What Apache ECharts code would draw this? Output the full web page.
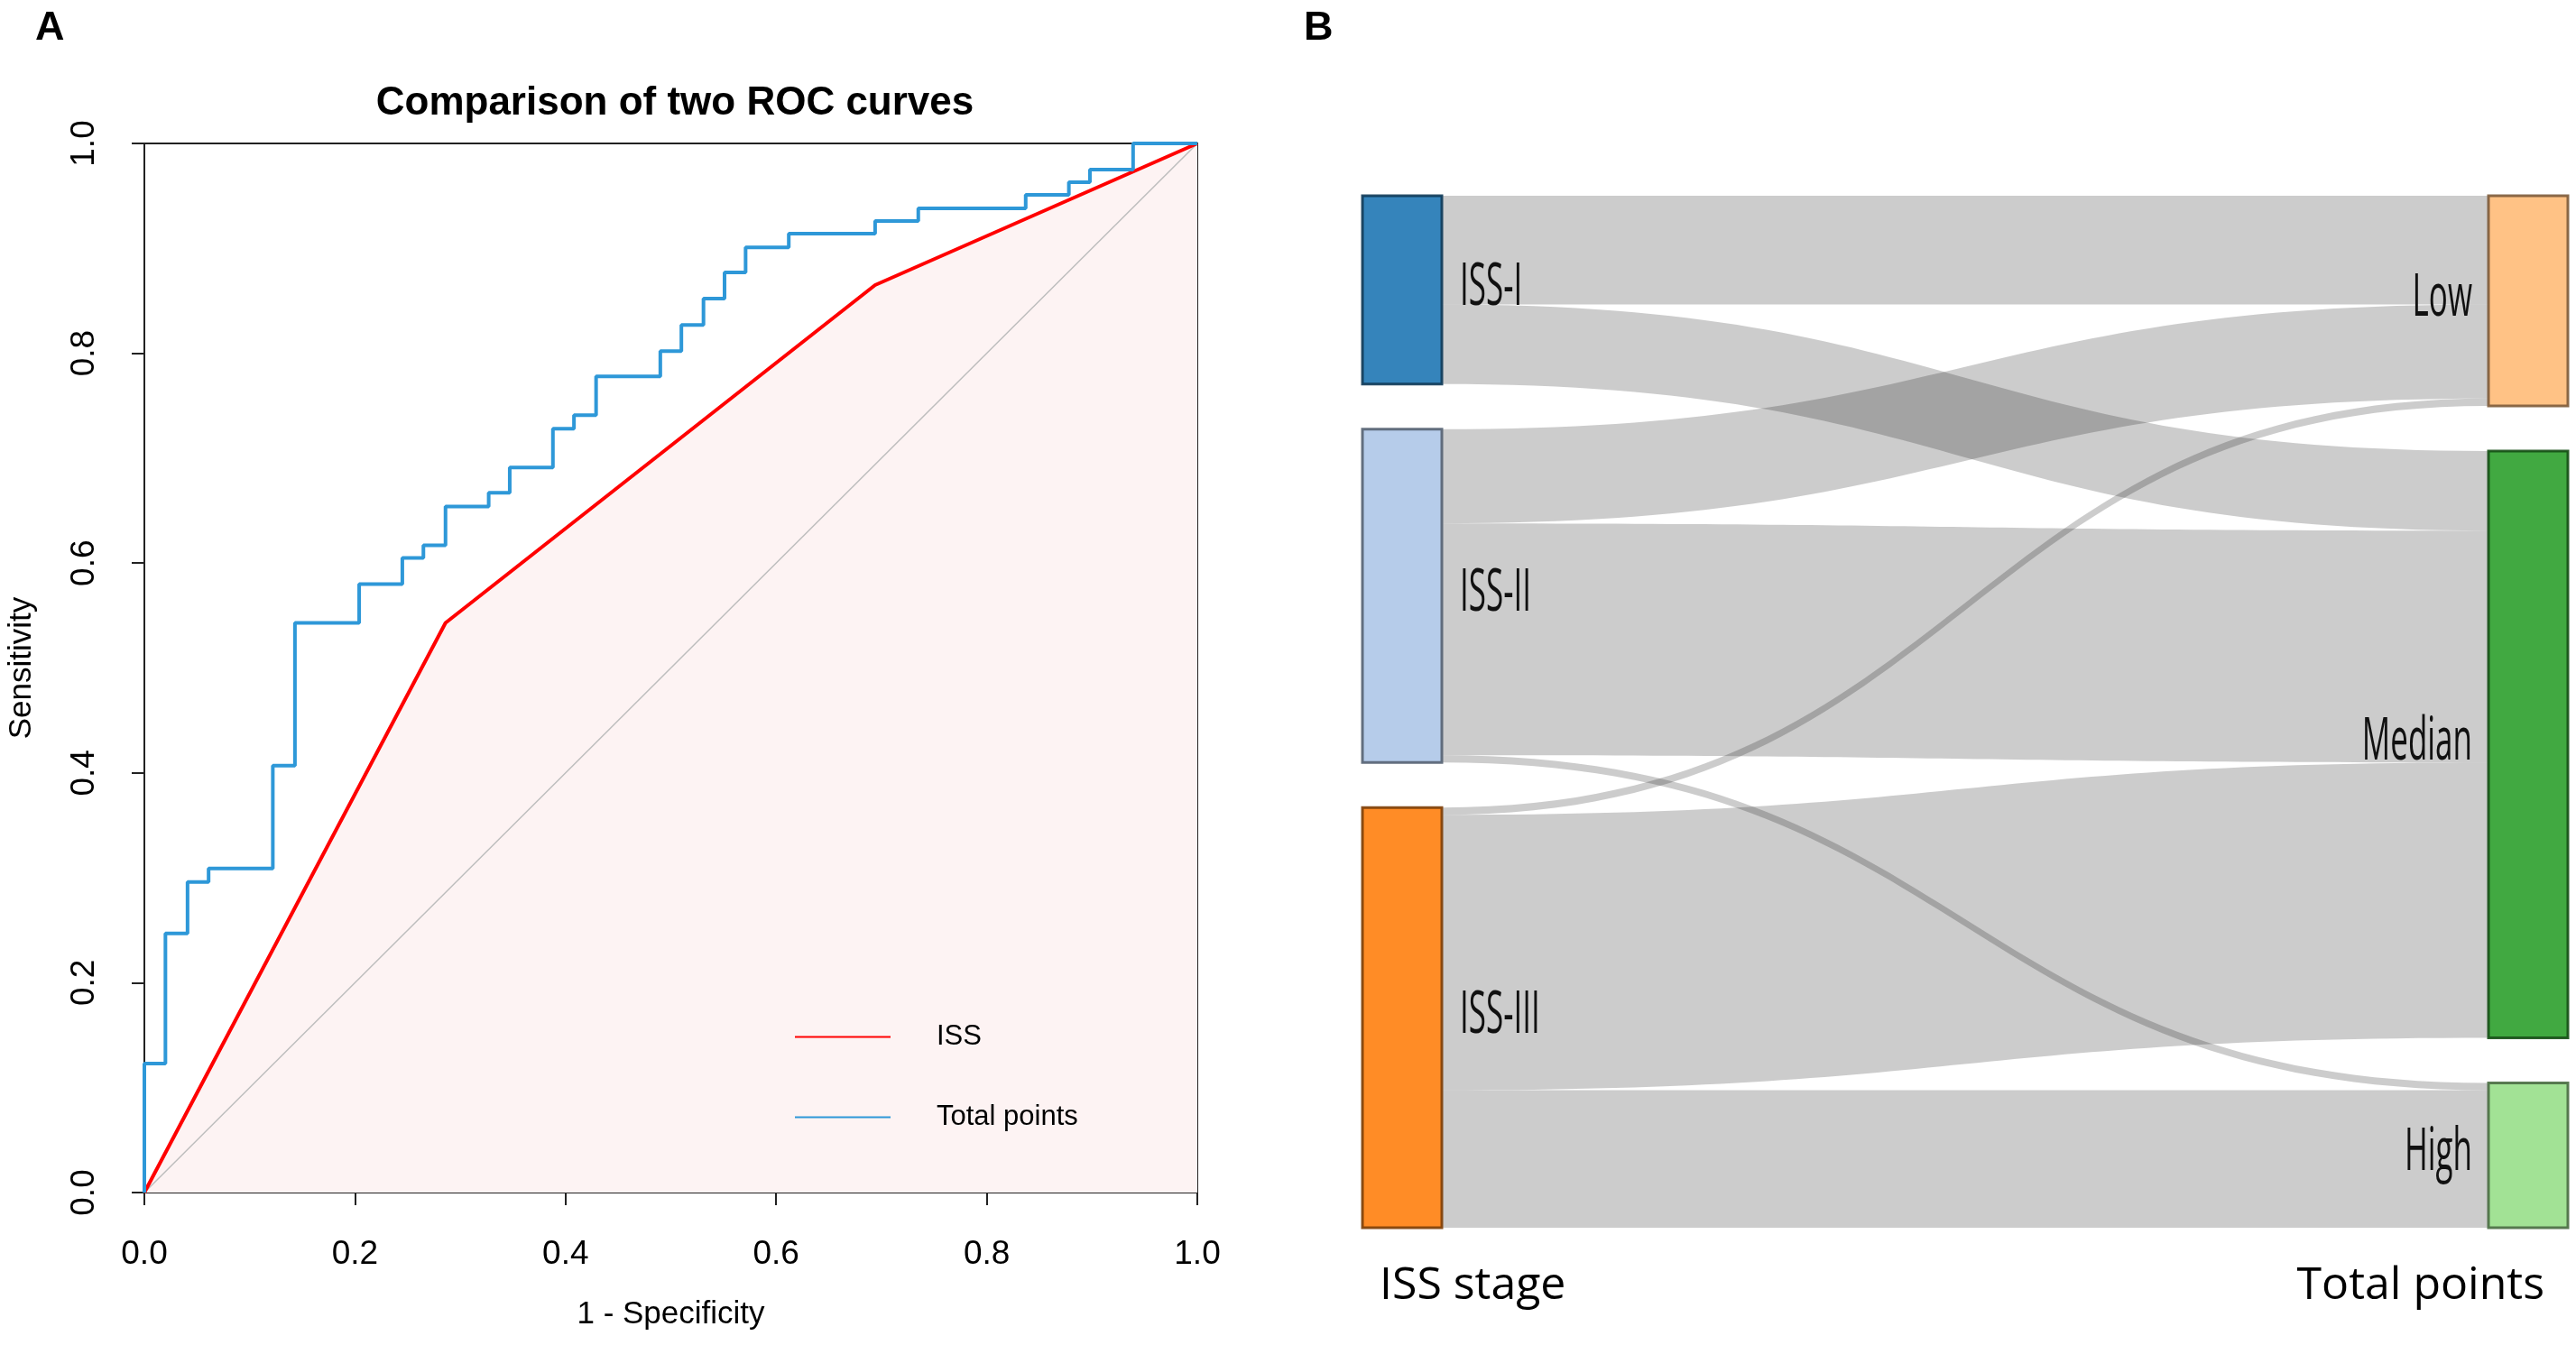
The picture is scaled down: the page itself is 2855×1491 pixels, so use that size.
<!DOCTYPE html>
<html>
<head>
<meta charset="utf-8">
<script src="https://cdn.jsdelivr.net/npm/echarts@6/dist/echarts.min.js"></script>
<style>
  html, body { margin: 0; padding: 0; background: #fff; }
  #main { width: 2855px; height: 1491px; }
</style>
</head>
<body>
<div id="main"></div>
<script>
// ROC data: 1 - specificity (x) and sensitivity (y)
var totalFpr = [0, 0, 0.020, 0.041, 0.061, 0.122, 0.143, 0.204, 0.245, 0.265, 0.286, 0.327, 0.347, 0.388, 0.408, 0.429,
                0.490, 0.510, 0.531, 0.551, 0.571, 0.612, 0.694, 0.735, 0.837, 0.878, 0.898, 0.939, 1.0];
var totalTpr = [0, 0.123, 0.247, 0.296, 0.309, 0.407, 0.543, 0.580, 0.605, 0.617, 0.654, 0.667, 0.691, 0.728, 0.741, 0.778,
                0.802, 0.827, 0.852, 0.877, 0.901, 0.914, 0.926, 0.938, 0.951, 0.963, 0.975, 1.0, 1.0];
var issFpr = [0, 0.286, 0.694, 1.0];
var issTpr = [0, 0.543, 0.865, 1.0];
var diagX = [0, 1];
var diagY = [0, 1];

// Sankey data
var stageNames = ['ISS-I', 'ISS-II', 'ISS-III'];
var pointNames = ['Low', 'Median', 'High'];
var flowSource = ['ISS-I', 'ISS-I', 'ISS-II', 'ISS-II', 'ISS-II', 'ISS-III', 'ISS-III', 'ISS-III'];
var flowTarget = ['Low', 'Median', 'Low', 'Median', 'High', 'Low', 'Median', 'High'];
var flowValue  = [15, 11, 13, 32, 1, 1, 38, 19];

var nodeColors = ['#1f77b4', '#aec7e8', '#ff7f0e', '#ffbb78', '#2ca02c', '#98df8a'];
var nodeBorders = ['#0f3a58', '#556272', '#7d3e07', '#7d5b3a', '#154e15', '#4a6d43'];

var fontR = "'Liberation Sans', Arial, sans-serif";
var fontSankey = "'Open Sans', 'Noto Sans', sans-serif";
var blue = '#2E98D8';

function pairs(xs, ys) {
    var out = [];
    for (var i = 0; i < xs.length; i++) out.push([xs[i], ys[i]]);
    return out;
}

var chart = echarts.init(document.getElementById('main'));

var nodes = stageNames.concat(pointNames).map(function (name, i) {
    return {
        name: name,
        itemStyle: { color: nodeColors[i], borderColor: nodeBorders[i], borderWidth: 3, opacity: 0.9 }
    };
});
var links = flowValue.map(function (v, i) {
    return { source: flowSource[i], target: flowTarget[i], value: v };
});

var aucTexts = [
    { type: 'text', left: 860, top: 738, style: { text: 'AUC: 0.650', fontFamily: fontR, fontSize: 38, fill: '#FF0000' } },
    { type: 'text', left: 860, top: 855, style: { text: 'AUC: 0.742', fontFamily: fontR, fontSize: 38, fill: blue } }
];

var option = {
    backgroundColor: '#fff',
    animation: false,
    title: [
        { text: 'A', left: 34, top: 4, textStyle: { fontFamily: fontR, fontSize: 45, fontWeight: 'bold', color: '#000' } },
        { text: 'B', left: 1440, top: 4, textStyle: { fontFamily: fontR, fontSize: 45, fontWeight: 'bold', color: '#000' } },
        { text: 'Comparison of two ROC curves', left: 743, textAlign: 'center', top: 88,
          textStyle: { fontFamily: fontR, fontSize: 44, fontWeight: 'bold', color: '#000' } },
        { text: 'ISS stage', left: 1524, top: 1396,
          textStyle: { fontFamily: fontSankey, fontSize: 50, fontWeight: 'normal', color: '#000' } },
        { text: 'Total points', left: 2815, textAlign: 'right', top: 1396,
          textStyle: { fontFamily: fontSankey, fontSize: 50, fontWeight: 'normal', color: '#000' } }
    ],
    legend: {
        orient: 'vertical',
        left: 875,
        top: 1129,
        itemWidth: 106,
        itemHeight: 2,
        itemGap: 58,
        data: ['ISS', 'Total points'],
        itemStyle: { opacity: 0 },
        lineStyle: { width: 2 },
        textStyle: { fontFamily: fontR, fontSize: 31, color: '#000', padding: [0, 0, 0, 46] }
    },
    grid: {
        left: 160, right: 1528, top: 159, bottom: 169,
        show: true, borderColor: '#222', borderWidth: 2, backgroundColor: 'transparent'
    },
    xAxis: {
        type: 'value', min: 0, max: 1, interval: 0.2,
        name: '1 - Specificity', nameLocation: 'middle', nameGap: 118,
        nameTextStyle: { fontFamily: fontR, fontSize: 35, color: '#000' },
        axisLine: { show: true, lineStyle: { color: '#222', width: 2 } },
        axisTick: { show: true, length: 14, lineStyle: { color: '#222', width: 2 } },
        axisLabel: { fontFamily: fontR, fontSize: 37, color: '#000', margin: 50,
                     formatter: function (v) { return v.toFixed(1); } },
        splitLine: { show: false }
    },
    yAxis: {
        type: 'value', min: 0, max: 1, interval: 0.2,
        name: 'Sensitivity', nameLocation: 'middle', nameGap: 118, nameRotate: 90,
        nameTextStyle: { fontFamily: fontR, fontSize: 35, color: '#000' },
        axisLine: { show: true, lineStyle: { color: '#222', width: 2 } },
        axisTick: { show: true, length: 14, lineStyle: { color: '#222', width: 2 } },
        axisLabel: { fontFamily: fontR, fontSize: 37, color: '#000', margin: 48, rotate: 90,
                     formatter: function (v) { return v.toFixed(1); } },
        splitLine: { show: false }
    },
    graphic: aucTexts,
    series: [
        {
            name: 'ISS area', type: 'line', data: pairs(issFpr, issTpr), symbol: 'none',
            lineStyle: { width: 0 }, areaStyle: { color: '#FDF3F3', opacity: 1 }, silent: true, z: 1
        },
        {
            name: 'diagonal', type: 'line', data: pairs(diagX, diagY), symbol: 'none',
            lineStyle: { color: '#BDBDBD', width: 1.5 }, silent: true, z: 2
        },
        {
            name: 'ISS', type: 'line', data: pairs(issFpr, issTpr), symbol: 'none',
            itemStyle: { color: '#FF0000' },
            lineStyle: { color: '#FF0000', width: 4 }, z: 3
        },
        {
            name: 'Total points', type: 'line', data: pairs(totalFpr, totalTpr), symbol: 'none', step: 'end',
            itemStyle: { color: blue },
            lineStyle: { color: blue, width: 4 }, z: 4
        },
        {
            type: 'sankey',
            left: 1510, right: 9, top: 217, bottom: 130,
            nodeWidth: 88,
            nodeGap: 50,
            layoutIterations: 0,
            draggable: false,
            emphasis: { disabled: true },
            label: { show: false },
            lineStyle: { color: '#000', opacity: 0.2, curveness: 0.5 },
            data: nodes,
            links: links
        }
    ]
};

chart.setOption(option);

// node labels: narrow text placed beside the nodes that the sankey layout produced
var sankeyModel = chart.getModel().getSeriesByType('sankey')[0];
var box = sankeyModel.layoutInfo;
var nodeLabels = [];
sankeyModel.getGraph().eachNode(function (node) {
    var l = node.getLayout();
    var isLeft = stageNames.indexOf(node.id) >= 0;
    nodeLabels.push({
        type: 'text',
        x: box.x + (isLeft ? l.x + l.dx + 20 : l.x - 18),
        y: box.y + l.y + l.dy / 2 - 2,
        scaleX: 0.53,
        z: 100,
        style: {
            text: node.id, x: 0, y: 0,
            align: isLeft ? 'left' : 'right', verticalAlign: 'middle',
            fontFamily: fontSankey, fontSize: 66, fill: '#111'
        }
    });
});
chart.setOption({ graphic: aucTexts.concat(nodeLabels) });
</script>
</body>
</html>
